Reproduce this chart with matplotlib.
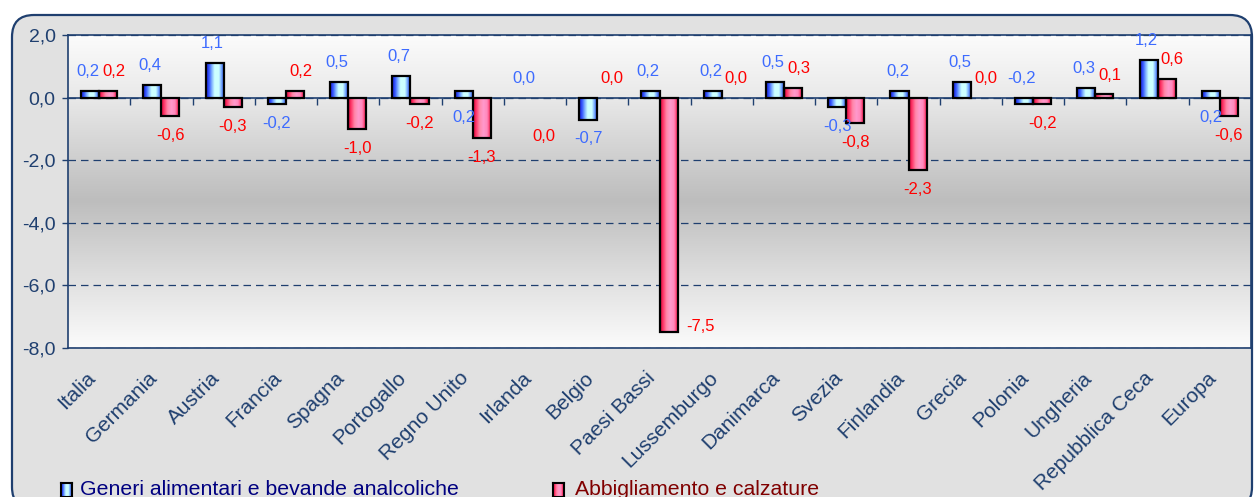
import numpy as np
import matplotlib.pyplot as plt
from matplotlib.colors import LinearSegmentedColormap
from matplotlib.patches import FancyBboxPatch
import matplotlib.transforms as mtransforms

# dati
paesi = ['Italia', 'Germania', 'Austria', 'Francia', 'Spagna', 'Portogallo',
         'Regno Unito', 'Irlanda', 'Belgio', 'Paesi Bassi', 'Lussemburgo',
         'Danimarca', 'Svezia', 'Finlandia', 'Grecia', 'Polonia', 'Ungheria',
         'Repubblica Ceca', 'Europa']
alimentari = [0.2, 0.4, 1.1, -0.2, 0.5, 0.7, 0.2, 0.0, -0.7, 0.2, 0.2,
              0.5, -0.3, 0.2, 0.5, -0.2, 0.3, 1.2, 0.2]
abbigliamento = [0.2, -0.6, -0.3, 0.2, -1.0, -0.2, -1.3, 0.0, 0.0, -7.5, 0.0,
                 0.3, -0.8, -2.3, 0.0, -0.2, 0.1, 0.6, -0.6]
# dove mettere le etichette (su = sopra, giu = sotto)
lato_alim = ['su', 'su', 'su', 'giu', 'su', 'su', 'giu', 'su', 'giu', 'su',
             'su', 'su', 'giu', 'su', 'su', 'su', 'su', 'su', 'giu']
lato_abb = ['su', 'giu', 'giu', 'su', 'giu', 'giu', 'giu', 'giu2', 'su',
            'destra', 'su', 'su', 'giu', 'giu', 'su', 'giu', 'su', 'su', 'giu']
yticks = [-8, -6, -4, -2, 0, 2]

plt.rcParams['font.family'] = ['Liberation Sans', 'DejaVu Sans']

navy = '#1f3f6f'
fig = plt.figure(figsize=(12.55, 4.97), dpi=100)
fig.patch.set_facecolor('white')

# cornice arrotondata
cornice = FancyBboxPatch((0.12, -0.12), 12.40, 4.94,
                         boxstyle='round,pad=0,rounding_size=0.22',
                         transform=fig.dpi_scale_trans, facecolor='#e1e1e1',
                         edgecolor=navy, linewidth=1.6, zorder=-10)
fig.patches.append(cornice)

ax = fig.add_axes([68 / 1255, 149 / 497, 1183 / 1255, 313 / 497])
ax.set_zorder(2)

# sfondo sfumato
sfondo = LinearSegmentedColormap.from_list(
    'sfondo', [(0, '#fbfbfb'), (0.2, '#e2e2e2'), (0.47, '#bdbdbd'),
               (0.8, '#e9e9e9'), (1, '#fcfcfc')])
ax.imshow(np.linspace(0, 1, 256).reshape(-1, 1), cmap=sfondo, aspect='auto',
          extent=(0, 1, 0, 1), transform=ax.transAxes, origin='lower', zorder=0)

blu = LinearSegmentedColormap.from_list(
    'blu', [(0, '#1a1acc'), (0.15, '#3355ff'), (0.32, '#88bbff'),
            (0.45, '#ccffff'), (0.68, '#ccffff'), (0.85, '#6699ff'), (1, '#2233cc')])
rosso = LinearSegmentedColormap.from_list(
    'rosso', [(0, '#cc0033'), (0.15, '#ff3366'), (0.35, '#ff88aa'),
              (0.55, '#ff99cc'), (0.75, '#ff88bb'), (0.9, '#ff3366'), (1, '#cc0033')])
hgrad = np.linspace(0, 1, 64).reshape(1, -1)

x = np.arange(len(paesi))
w = 0.29
lw_a = [1.6 if v != 0 else 0 for v in alimentari]
lw_b = [1.6 if v != 0 else 0 for v in abbigliamento]
barre_a = ax.bar(x - w / 2, alimentari, w, facecolor='none', edgecolor='black',
                 linewidth=lw_a, zorder=3)
barre_b = ax.bar(x + w / 2, abbigliamento, w, facecolor='none', edgecolor='black',
                 linewidth=lw_b, zorder=3)

for barre, cmap in [(barre_a, blu), (barre_b, rosso)]:
    for b in barre:
        h = b.get_height()
        if h == 0:
            continue
        x0 = b.get_x()
        y0 = b.get_y()
        ax.imshow(hgrad, cmap=cmap, aspect='auto', zorder=2,
                  extent=(x0, x0 + b.get_width(), min(y0, y0 + h), max(y0, y0 + h)))


def fmt(v):
    return f'{v:.1f}'.replace('.', ',')


def etichetta(xb, v, lato, colore, dx):
    if lato == 'su':
        ax.annotate(fmt(v), (xb, max(v, 0)), xytext=(dx, 14), textcoords='offset points',
                    ha='center', va='center', color=colore, fontsize=12)
    elif lato == 'giu':
        ax.annotate(fmt(v), (xb, min(v, 0)), xytext=(0, -14), textcoords='offset points',
                    ha='center', va='center', color=colore, fontsize=12)
    elif lato == 'giu2':
        ax.annotate(fmt(v), (xb, min(v, 0)), xytext=(0, -28), textcoords='offset points',
                    ha='center', va='center', color=colore, fontsize=12)
    else:
        ax.annotate(fmt(v), (xb + w / 2, v), xytext=(6, 4), textcoords='offset points',
                    ha='left', va='center', color=colore, fontsize=12)


for xb, v, lato in zip(x - w / 2, alimentari, lato_alim):
    etichetta(xb, v, lato, '#3d6bff', -1.5)
for xb, v, lato in zip(x + w / 2, abbigliamento, lato_abb):
    etichetta(xb, v, lato, '#ff0000', 4)

ax.set_xlim(-0.5, len(paesi) - 0.5)
ax.set_ylim(-8, 2)
ax.set_yticks(yticks)
ax.set_yticklabels([fmt(t) for t in yticks])
ax.tick_params(axis='y', colors=navy, labelsize=14, length=4, width=1, pad=5)
ax.set_xticks(x)
ax.set_xticklabels(paesi, rotation=45, ha='right', va='center',
                   rotation_mode='anchor', color=navy, fontsize=15)
ax.tick_params(axis='x', length=0, pad=0)
sposta = mtransforms.ScaledTranslation(-7 / 100, -27 / 100, fig.dpi_scale_trans)
for lab in ax.get_xticklabels():
    lab.set_transform(lab.get_transform() + sposta)

for s in ax.spines.values():
    s.set_color(navy)
    s.set_linewidth(1.2)

ax.grid(axis='y', color=navy, linestyle=(0, (6, 4)), linewidth=0.9)
ax.set_axisbelow(True)

# asse delle categorie sullo zero
asse0 = ax.secondary_xaxis(0.8)
asse0.set_alignment('bottom')
asse0.set_xticks(x[:-1] + 0.5)
asse0.tick_params(axis='x', direction='out', length=5, width=1, color=navy,
                  labelbottom=False, labeltop=False)
for s in asse0.spines.values():
    s.set_color(navy)
    s.set_linewidth(1.2)

# legenda
for xk, xt, cmap, testo, col in [(61, 80, blu, 'Generi alimentari e bevande analcoliche', '#000080'),
                                 (553, 575, rosso, 'Abbigliamento e calzature', '#800000')]:
    kax = fig.add_axes([xk / 1255, 0 / 497, 11 / 1255, 14 / 497])
    kax.set_zorder(2)
    kax.imshow(hgrad, cmap=cmap, aspect='auto')
    kax.set_xticks([])
    kax.set_yticks([])
    for s in kax.spines.values():
        s.set_color('black')
        s.set_linewidth(1.5)
    fig.text(xt / 1255, 2 / 497, testo, color=col, fontsize=15.3, va='baseline')

plt.savefig('out.png', dpi=100)
